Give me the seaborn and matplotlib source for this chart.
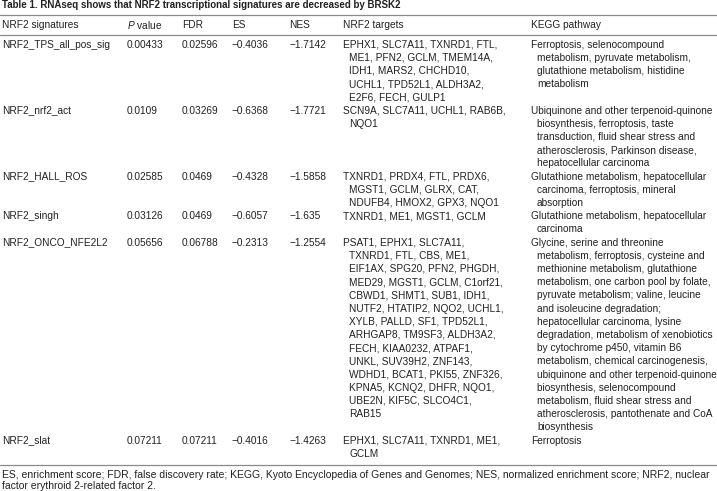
from pathlib import Path
import pandas as pd
import seaborn as sns
import matplotlib.pyplot as plt

# ---- table content ----
title = "Table 1. RNAseq shows that NRF2 transcriptional signatures are decreased by BRSK2"
headers = ["NRF2 signatures", "$\\it{P}$ value", "FDR", "ES", "NES", "NRF2 targets", "KEGG pathway"]

signatures = ["NRF2_TPS_all_pos_sig", "NRF2_nrf2_act", "NRF2_HALL_ROS",
              "NRF2_singh", "NRF2_ONCO_NFE2L2", "NRF2_slat"]
p_values = ["0.00433", "0.0109", "0.02585", "0.03126", "0.05656", "0.07211"]
fdr = ["0.02596", "0.03269", "0.0469", "0.0469", "0.06788", "0.07211"]
es = ["\u22120.4036", "\u22120.6368", "\u22120.4328", "\u22120.6057", "\u22120.2313", "\u22120.4016"]
nes = ["\u22121.7142", "\u22121.7721", "\u22121.5858", "\u22121.635", "\u22121.2554", "\u22121.4263"]

targets = [
    ["EPHX1, SLC7A11, TXNRD1, FTL,", "ME1, PFN2, GCLM, TMEM14A,", "IDH1, MARS2, CHCHD10,",
     "UCHL1, TPD52L1, ALDH3A2,", "E2F6, FECH, GULP1"],
    ["SCN9A, SLC7A11, UCHL1, RAB6B,", "NQO1"],
    ["TXNRD1, PRDX4, FTL, PRDX6,", "MGST1, GCLM, GLRX, CAT,", "NDUFB4, HMOX2, GPX3, NQO1"],
    ["TXNRD1, ME1, MGST1, GCLM"],
    ["PSAT1, EPHX1, SLC7A11,", "TXNRD1, FTL, CBS, ME1,", "EIF1AX, SPG20, PFN2, PHGDH,",
     "MED29, MGST1, GCLM, C1orf21,", "CBWD1, SHMT1, SUB1, IDH1,", "NUTF2, HTATIP2, NQO2, UCHL1,",
     "XYLB, PALLD, SF1, TPD52L1,", "ARHGAP8, TM9SF3, ALDH3A2,", "FECH, KIAA0232, ATPAF1,",
     "UNKL, SUV39H2, ZNF143,", "WDHD1, BCAT1, PKI55, ZNF326,", "KPNA5, KCNQ2, DHFR, NQO1,",
     "UBE2N, KIF5C, SLCO4C1,", "RAB15"],
    ["EPHX1, SLC7A11, TXNRD1, ME1,", "GCLM"],
]

kegg = [
    ["Ferroptosis, selenocompound", "metabolism, pyruvate metabolism,",
     "glutathione metabolism, histidine", "metabolism"],
    ["Ubiquinone and other terpenoid-quinone", "biosynthesis, ferroptosis, taste",
     "transduction, fluid shear stress and", "atherosclerosis, Parkinson disease,",
     "hepatocellular carcinoma"],
    ["Glutathione metabolism, hepatocellular", "carcinoma, ferroptosis, mineral", "absorption"],
    ["Glutathione metabolism, hepatocellular", "carcinoma"],
    ["Glycine, serine and threonine", "metabolism, ferroptosis, cysteine and",
     "methionine metabolism, glutathione", "metabolism, one carbon pool by folate,",
     "pyruvate metabolism; valine, leucine", "and isoleucine degradation;",
     "hepatocellular carcinoma, lysine", "degradation, metabolism of xenobiotics",
     "by cytochrome p450, vitamin B6", "metabolism, chemical carcinogenesis,",
     "ubiquinone and other terpenoid-quinone", "biosynthesis, selenocompound",
     "metabolism, fluid shear stress and", "atherosclerosis, pantothenate and CoA",
     "biosynthesis"],
    ["Ferroptosis"],
]

footnote = ["ES, enrichment score; FDR, false discovery rate; KEGG, Kyoto Encyclopedia of Genes and "
            "Genomes; NES, normalized enrichment score; NRF2, nuclear",
            "factor erythroid 2-related factor 2."]

df = pd.DataFrame({"sig": signatures, "p": p_values, "fdr": fdr, "es": es, "nes": nes,
                   "targets": targets, "kegg": kegg})

# ---- layout (pixel space) ----
W, H = 717, 491
col_x = [2, 127, 182, 232, 289, 343, 531]
indent = 6
line_h = 13.2
fs = 7.3
txt = "#222222"
rule = "#8a8a8a"

sns.set_theme(style="white")
plt.rcParams["font.family"] = ["Liberation Sans", "DejaVu Sans"]
plt.rcParams["mathtext.fontset"] = "custom"
plt.rcParams["mathtext.it"] = "Liberation Sans:italic"
plt.rcParams["mathtext.rm"] = "Liberation Sans"

fig = plt.figure(figsize=(W / 100, H / 100), dpi=100)
ax = fig.add_axes([0, 0, 1, 1])
ax.set_xlim(0, W)
ax.set_ylim(H, 0)
ax.axis("off")

ax.text(2, 5, title, fontsize=7.0, fontweight="bold", color=txt, va="center")
ax.axhline(15.3, color=rule, lw=0.9)
for x, h in zip(col_x, headers):
    ax.text(x, 25, h, fontsize=fs, color=txt, va="center")
ax.axhline(34.5, color=rule, lw=0.9)

y = 44.5
for _, r in df.iterrows():
    for x, v in zip(col_x[:5], [r.sig, r.p, r.fdr, r.es, r.nes]):
        ax.text(x, y, v, fontsize=fs, color=txt, va="center")
    for i, s in enumerate(r.targets):
        ax.text(col_x[5] + (indent if i else 0), y + i * line_h, s, fontsize=fs, color=txt, va="center")
    for i, s in enumerate(r.kegg):
        ax.text(col_x[6] + (indent if i else 0), y + i * line_h, s, fontsize=fs, color=txt, va="center")
    y += max(len(r.targets), len(r.kegg)) * line_h

ax.axhline(y - 1.5, color=rule, lw=0.9)
for i, s in enumerate(footnote):
    ax.text(2, y + 11 + i * 11.3, s, fontsize=7.48, color=txt, va="baseline")

fig.savefig("out.png", dpi=100)
plt.close(fig)
